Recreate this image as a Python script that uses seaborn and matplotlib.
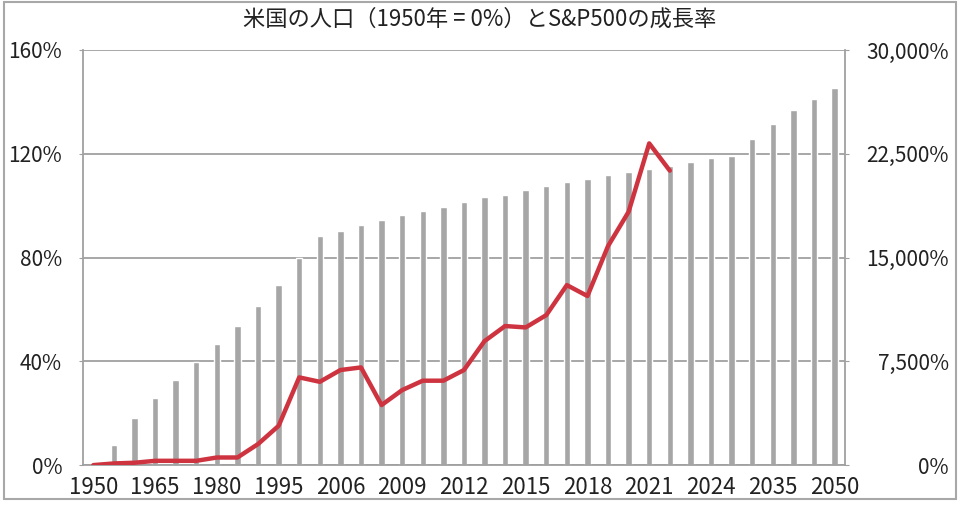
import numpy as np
import pandas as pd
import matplotlib
matplotlib.use('Agg')
import matplotlib.pyplot as plt
import seaborn as sns
from matplotlib.patches import Rectangle
from matplotlib.ticker import FuncFormatter, MultipleLocator

# --- data ---
years = ['1950', '1955', '1960', '1965', '1970', '1975', '1980', '1985', '1990', '1995',
         '2000', '2005', '2006', '2007', '2008', '2009', '2010', '2011', '2012', '2013',
         '2014', '2015', '2016', '2017', '2018', '2019', '2020', '2021', '2022', '2023',
         '2024', '2025', '2030', '2035', '2040', '2045', '2050']

# US population growth vs 1950 (%), left axis
population = [0, 7.7, 18.0, 26.0, 32.9, 39.8, 46.5, 53.5, 61.4, 69.4,
              80.0, 88.4, 90.4, 92.5, 94.3, 96.3, 98.1, 99.5, 101.3, 103.2,
              104.2, 106.0, 107.6, 109.0, 110.2, 112.0, 113.0, 114.1, 115.2, 117.0,
              118.3, 119.2, 125.6, 131.4, 136.9, 141.3, 145.2]

# S&P500 growth vs 1950 (%), right axis (ends at 2022)
sp500 = [0, 120, 170, 310, 310, 310, 550, 550, 1520, 2840,
         6340, 6020, 6870, 7060, 4340, 5420, 6100, 6100, 6870, 8960,
         10050, 9950, 10840, 13010, 12220, 15830, 18310, 23250, 21280]

tick_labels = ['1950', '1965', '1980', '1995', '2006', '2009', '2012',
               '2015', '2018', '2021', '2024', '2035', '2050']

title = '米国の人口（1950年 = 0%）とS&P500の成長率'

# --- plotting ---
sns.set_style('white')
plt.rcParams['font.family'] = ['Noto Sans CJK JP', 'DejaVu Sans']

grid_col = '#A0A0A0'
text_col = '#222222'
fs = 15

df_pop = pd.DataFrame({'year': years, 'pop': population})
df_sp = pd.DataFrame({'pos': np.arange(len(sp500)), 'sp': sp500})

fig, ax = plt.subplots(figsize=(9.6, 5.05), dpi=100)
fig.subplots_adjust(left=0.0865, right=0.880, top=0.901, bottom=0.079)

sns.barplot(data=df_pop, x='year', y='pop', color='#A6A6A6', width=0.31,
            saturation=1, ax=ax, zorder=2)
ax.set_ylim(0, 160)
ax.set_xlim(-0.5, len(years) - 0.5)
ax.yaxis.set_major_locator(MultipleLocator(40))
ax.yaxis.set_major_formatter(FuncFormatter(lambda v, p: f'{v:.0f}%'))
ax.grid(axis='y', color=grid_col, linewidth=1.3, zorder=0)
ax.set_axisbelow(True)
ax.set_xlabel('')
ax.set_ylabel('')

label_pos = [years.index(t) for t in tick_labels]
ax.set_xticks(label_pos)
ax.set_xticklabels(tick_labels)
ax.set_xticks(np.arange(-0.5, len(years), 1), minor=True)
ax.tick_params(axis='x', which='major', length=0, labelsize=16, pad=8, colors=text_col)
ax.tick_params(axis='x', which='minor', length=4, color=grid_col, width=1)
ax.tick_params(axis='y', length=3, color=grid_col, labelsize=fs, colors=text_col, pad=12)

for side in ['left', 'bottom']:
    ax.spines[side].set_color(grid_col)
    ax.spines[side].set_linewidth(1.3)
ax.spines['top'].set_visible(False)
ax.spines['right'].set_visible(False)

ax2 = ax.twinx()
sns.lineplot(data=df_sp, x='pos', y='sp', color='#CE3440', linewidth=3.2, ax=ax2,
             zorder=3)
ax2.set_ylim(0, 30000)
ax2.set_xlim(-0.5, len(years) - 0.5)
ax2.yaxis.set_major_locator(MultipleLocator(7500))
ax2.yaxis.set_major_formatter(FuncFormatter(lambda v, p: f'{v:,.0f}%'))
ax2.set_ylabel('')
ax2.set_xlabel('')
ax2.tick_params(axis='y', length=3, color=grid_col, labelsize=fs, colors=text_col, pad=72)
for lbl in ax2.get_yticklabels():
    lbl.set_horizontalalignment('right')
ax2.spines['right'].set_color(grid_col)
ax2.spines['right'].set_linewidth(1.3)
for side in ['top', 'left', 'bottom']:
    ax2.spines[side].set_visible(False)

fig.suptitle(title, fontsize=16, y=0.985, color=text_col)

# outer frame
fig.add_artist(Rectangle((4 / 960, 6 / 505), 952 / 960, 497 / 505,
                         transform=fig.transFigure, fill=False,
                         edgecolor='#A8A8A8', linewidth=1.5))

fig.savefig('out.png', dpi=100)
